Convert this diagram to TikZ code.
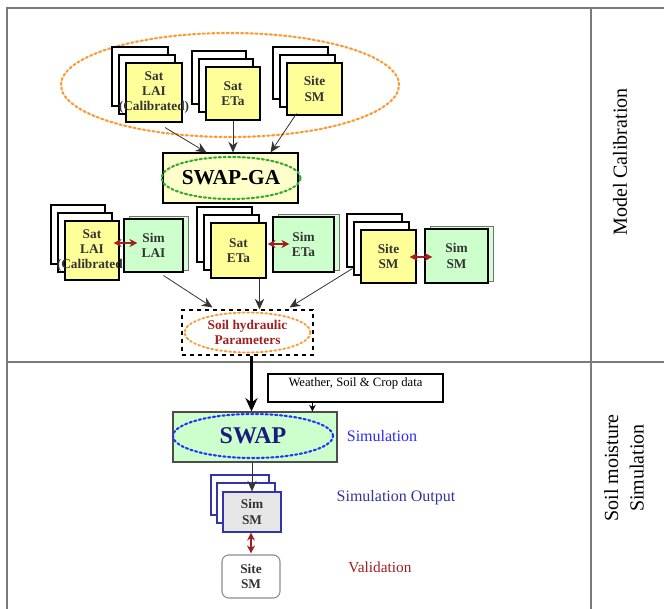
\documentclass[tikz,border=0pt]{standalone}
\usepackage{fontspec}
\setmainfont{Liberation Serif}
\usetikzlibrary{arrows.meta,calc,fit,shapes.geometric}
\definecolor{frameg}{HTML}{7A7A7A}
\definecolor{satyellow}{HTML}{FFFF99}
\definecolor{simgreen}{HTML}{CCFFCC}
\definecolor{gapale}{HTML}{FFFFCC}
\definecolor{orangedot}{HTML}{FF9933}
\definecolor{greendot}{HTML}{33AA33}
\definecolor{bluedot}{HTML}{2233FF}
\definecolor{dred}{HTML}{A02020}
\definecolor{navy}{HTML}{1A1A80}
\definecolor{simblue}{HTML}{2B2BFF}
\definecolor{outblue}{HTML}{333399}
\definecolor{stackblue}{HTML}{3333AA}
\definecolor{simgrey}{HTML}{E6E6E6}
\newcommand\backpages[4]{%
  \draw[page] ({#1-14},{#2-16}) rectangle ({#3-14},{#4-16});
  \draw[page] ({#1-7},{#2-8}) rectangle ({#3-7},{#4-8});}
\newcommand\simshadow[4]{%
  \draw[draw=black!55, fill=simgreen!85, line width=0.6pt] ({#1+5},{#2-3}) rectangle ({#3+5},{#4-2});}
\begin{document}
\begin{tikzpicture}[x=0.75pt,y=-0.75pt,
  frame/.style={draw=frameg, line width=1.3pt},
  page/.style={draw=black, fill=white, line width=0.8pt},
  satbox/.style={draw=black, fill=satyellow, line width=0.8pt, inner sep=0pt},
  simbox/.style={draw=black, fill=simgreen, line width=0.8pt, inner sep=0pt},
  lbl/.style={font=\bfseries\fontsize{10}{11.5}\selectfont, align=center, text=black!80},
  arr/.style={-{Stealth[length=8pt,width=7pt]}, line width=0.6pt, draw=black!80},
  darr/.style={{Stealth[length=6pt,width=6pt]}-{Stealth[length=6pt,width=6pt]}, line width=1.1pt, draw=dred},
  dotell/.style={ellipse, dotted, line width=1.6pt, line cap=round, inner sep=0pt},
  sidelbl/.style={rotate=90, font=\fontsize{15}{19}\selectfont, align=center}
]
\useasboundingbox (0,0) rectangle (664,609);
% frame
\draw[frame] (7,609) -- (7,8) -- (664,8);
\draw[frame] (7,362) -- (664,362);
\draw[frame] (591,8) -- (591,609);
\node[sidelbl] (mc) at (620,162) {Model Calibration};
\node[sidelbl] (sms) at (624,468) {Soil moisture\\Simulation};

% top ellipse
\node[dotell, draw=orangedot, minimum width=253.5pt, minimum height=78pt] (inputs) at (230,85) {};

% row 1
\backpages{126}{63}{182}{122}
\node[satbox, fit={(126,63)(182,122)}] (lai1) {};
\node[lbl] at (lai1) {Sat\\LAI\\(Calibrated)};
\backpages{206}{67}{260}{120}
\node[satbox, fit={(206,67)(260,120)}] (eta1) {};
\node[lbl] at (eta1) {Sat\\ETa};
\backpages{287}{63}{342}{115}
\node[satbox, fit={(287,63)(342,115)}] (sm1) {};
\node[lbl] at (sm1) {Site\\SM};

% SWAP-GA
\node[draw=black, fill=gapale, line width=0.8pt, inner sep=0pt, fit={(163,153)(298,203)}] (swapga) {};
\node[dotell, draw=greendot, minimum width=96pt, minimum height=31.5pt,
  font=\bfseries\fontsize{16}{18}\selectfont] (gaell) at (231,178) {SWAP-GA};

\draw[arr] ($(lai1.south)+(11,5)$) -- ($(swapga.north west)+(44,0)$);
\draw[arr] (eta1.south) -- (eta1.south |- swapga.north);
\draw[arr] ($(sm1.south)+(-18,-2)$) -- ($(swapga.north east)+(-28,0)$);

% row 2
\backpages{65}{221}{119}{280}
\node[satbox, fit={(65,221)(119,280)}] (lai2) {};
\node[lbl] at (lai2) {Sat\\LAI\\(Calibrated)};
\simshadow{124}{219}{183}{272}
\node[simbox, fit={(124,219)(183,272)}] (simlai) {};
\node[lbl] at (simlai) {Sim\\LAI};

\backpages{211}{223}{266}{278}
\node[satbox, fit={(211,223)(266,278)}] (eta2) {};
\node[lbl] at (eta2) {Sat\\ETa};
\simshadow{273}{217}{334}{272}
\node[simbox, fit={(273,217)(334,272)}] (simeta) {};
\node[lbl] at (simeta) {Sim\\ETa};

\backpages{361}{230}{416}{283}
\node[satbox, fit={(361,230)(416,283)}] (sm2) {};
\node[lbl] at (sm2) {Site\\SM};
\simshadow{425}{229}{488}{283}
\node[simbox, fit={(425,229)(488,283)}] (simsm) {};
\node[lbl] at (simsm) {Sim\\SM};

\draw[darr] ($(lai2.east)+(-6,-7.5)$) -- ($(simlai.west)+(14,-2.5)$);
\draw[darr] ($(eta2.east)+(1,-6.5)$) -- ($(simeta.west)+(17,-0.5)$);
\draw[darr] ($(sm2.east)+(-7,0.5)$) -- ($(simsm.west)+(8,1)$);

% soil hydraulic parameters
\node[draw=black, dashed, line width=0.8pt, inner sep=0pt, fit={(182,310)(313,355)}] (soil) {};
\node[dotell, draw=orangedot, line width=1.4pt, minimum width=94.5pt, minimum height=30pt,
  font=\bfseries\fontsize{10}{11}\selectfont, text=dred, align=center] (soilell) at (247.5,332.5) {Soil hydraulic\\Parameters};

\draw[arr] ($(simlai.south)+(10,3)$) -- ($(soil.north west)+(31,-2)$);
\coordinate (etafoot) at ($(eta2.south)+(21,0)$);
\draw[arr] (etafoot) -- (etafoot |- soil.north);
\coordinate (smfoot) at ($(sm2.south west)+(-8,-15)$);
\draw[arr] (smfoot) -- ($(soil.north east)+(-24,-2)$);

% simulation
\node[draw=black, line width=0.8pt, inner sep=0pt, fit={(268,374)(443,402)},
  font=\fontsize{9.5}{11}\selectfont] (weather) {Weather, Soil \& Crop data};
\node[draw=black!70, fill=simgreen, line width=0.8pt, inner sep=0pt, fit={(173,412)(337,462)}] (swap) {};
\node[dotell, draw=bluedot, minimum width=120pt, minimum height=33pt,
  font=\bfseries\fontsize{18}{20}\selectfont, text=navy] (swapell) at (253,436) {SWAP};
\node[font=\fontsize{12}{14}\selectfont, text=simblue] (simlbl) at (382,436) {Simulation};

\coordinate (soilfoot) at ($(soil.south)+(4,0)$);
\draw[-{Stealth[length=10pt,width=9pt]}, line width=2.4pt] (soilfoot) -- (soilfoot |- swap.north);
\coordinate (wfoot) at ($(weather.south west)+(45,0)$);
\draw[-{Stealth[length=5pt,width=5pt]}, line width=0.6pt] (wfoot) -- (wfoot |- swap.north);

% simulation output
\draw[draw=stackblue, fill=white, line width=0.9pt] (211,475) rectangle (269,515);
\draw[draw=stackblue, fill=white, line width=0.9pt] (217,483) rectangle (275,523);
\node[draw=stackblue, fill=simgrey, line width=0.9pt, inner sep=0pt, fit={(223,492)(281,532)}] (simout) {};
\node[lbl] at (simout) {Sim\\SM};
\node[font=\fontsize{12}{14}\selectfont, text=outblue] (outlbl) at (396,498) {Simulation Output};
\coordinate (swapfoot) at ($(swap.south)+(-3,0)$);
\draw[arr] (swapfoot) -- (swapfoot |- simout.north);

% validation
\node[draw=black!45, fill=white, rounded corners=5pt, line width=0.8pt, inner sep=0pt, fit={(222,555)(280,598)}] (site) {};
\node[lbl] at (site) {Site\\SM};
\node[font=\fontsize{11.5}{14}\selectfont, text=dred] (vallbl) at (380,567) {Validation};
\draw[darr] ($(simout.south)+(-1,0)$) -- ($(site.north)+(0,-1)$);
\end{tikzpicture}
\end{document}
